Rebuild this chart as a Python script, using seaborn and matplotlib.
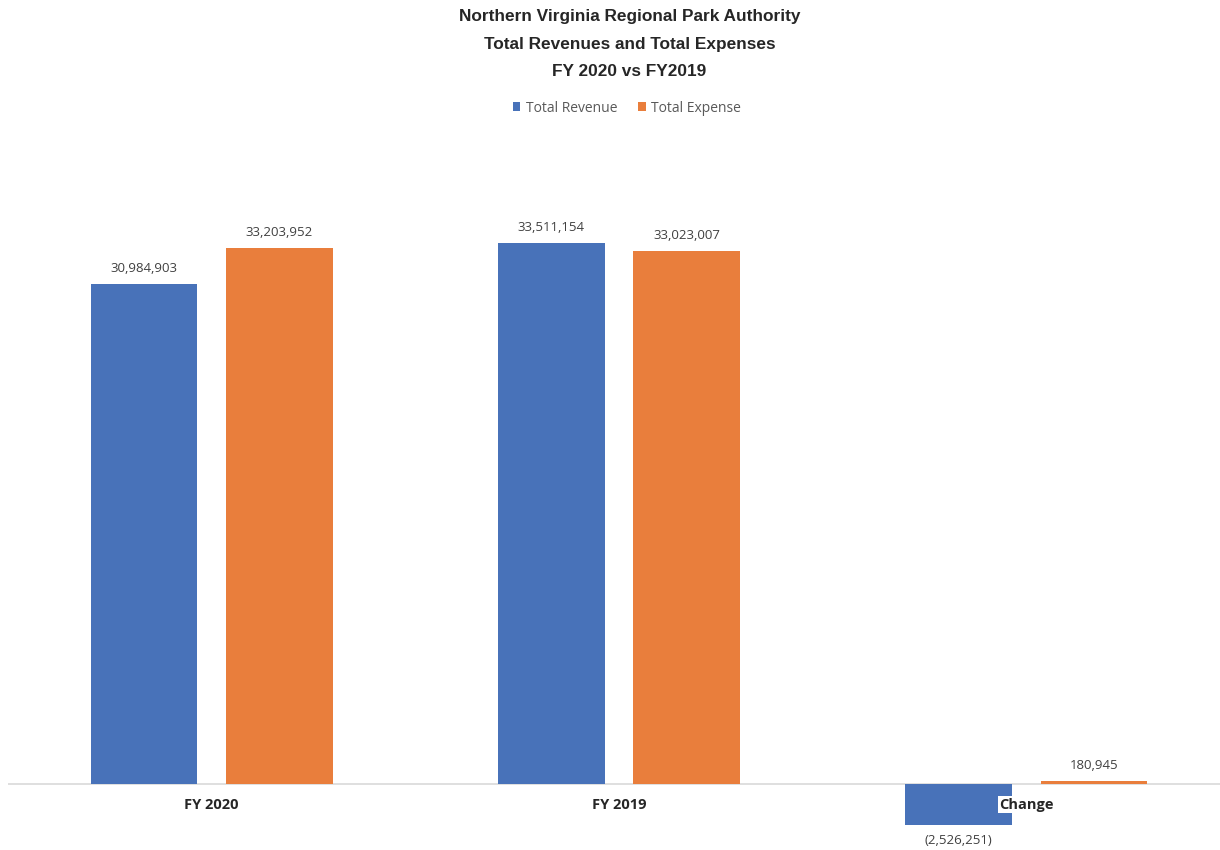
import matplotlib
matplotlib.use("Agg")
import matplotlib.pyplot as plt
import seaborn as sns
import pandas as pd
from matplotlib.patches import Patch

# data
categories = ["FY 2020", "FY 2019", "Change"]
total_revenue = [30984903, 33511154, -2526251]
total_expense = [33203952, 33023007, 180945]
series = ["Total Revenue", "Total Expense"]
colors = ["#4872B9", "#E97E3C"]

df = pd.DataFrame({
    "cat": categories * 2,
    "value": total_revenue + total_expense,
    "series": [series[0]] * 3 + [series[1]] * 3,
})

sns.set_style("white")
fig = plt.figure(figsize=(12.2, 8.5), dpi=100)
ax = fig.add_axes([8 / 1220, 0.0, 1222 / 1220, 1 - 138 / 850])

sns.barplot(data=df, x="cat", y="value", hue="series", palette=colors,
            width=0.664, gap=0.21, saturation=1, legend=False, ax=ax,
            linewidth=0)

ax.set_ylim(-4.09e6, 40e6)
ax.set_xlim(-0.5, 2.5)
ax.axhline(0, color="#D9D9D9", lw=1.2, zorder=0.5)
for s in ax.spines.values():
    s.set_visible(False)
ax.set_yticks([])
ax.set_xticks([])
ax.set_xlabel("")
ax.set_ylabel("")


def fmt(v):
    if v < 0:
        return "({:,.0f})".format(-v)
    return "{:,.0f}".format(v)


for cont in ax.containers:
    vals = cont.datavalues
    ax.bar_label(cont, labels=[fmt(v) for v in vals], padding=6.5,
                 fontsize=9.5, color="#404040", family="Open Sans")

# category labels sit just under the zero line, on a white box like Excel
for i, c in enumerate(categories):
    ax.annotate(c, xy=(i, 0), xytext=(0, -15), textcoords="offset points",
                ha="center", va="center", fontsize=10.5, fontweight="bold",
                color="#262626", family="Open Sans", zorder=5,
                bbox=dict(facecolor="white", edgecolor="none", pad=1.0))

title_lines = ["Northern Virginia Regional Park Authority",
               "Total Revenues and Total Expenses",
               "FY 2020 vs FY2019"]
for i, t in enumerate(title_lines):
    fig.text(629.5 / 1220, 1 - (16 + 28 * i) / 850, t, ha="center", va="center",
             fontsize=12.4, fontweight="bold", color="#262626",
             family="Liberation Sans")

handles = [Patch(facecolor=c, edgecolor="none") for c in colors]
leg = fig.legend(handles, series, loc="center", bbox_to_anchor=(0.5 + 17 / 1220, 1 - 108 / 850),
                 ncol=2, frameon=False, handlelength=0.55, handleheight=0.55,
                 handletextpad=0.4, columnspacing=1.5,
                 prop={"family": "Open Sans", "size": 10})
for t in leg.get_texts():
    t.set_color("#595959")

fig.savefig("out.png", dpi=100)
